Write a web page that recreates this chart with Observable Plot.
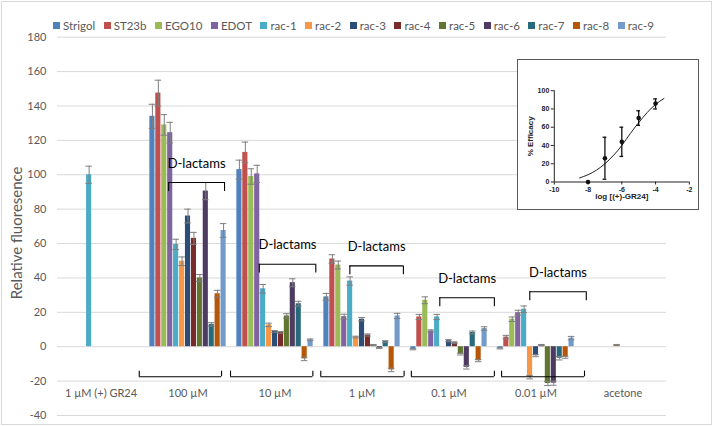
<!DOCTYPE html>
<html>
<head>
<meta charset="utf-8">
<script src="https://cdn.jsdelivr.net/npm/d3@7"></script>
<script src="https://cdn.jsdelivr.net/npm/@observablehq/plot@0.6"></script>
<style>
  html, body { margin: 0; padding: 0; background: #fff; }
  #chart { position: relative; width: 713px; height: 426px; overflow: hidden; font-family: Lato, sans-serif; }
  #frame { position: absolute; left: 1px; top: 1px; width: 709px; height: 422px; border: 1px solid #d9d9d9; pointer-events: none; }
  #main { position: absolute; left: 0; top: 0; }
  #legend { position: absolute; left: 53px; top: 19px; display: flex; gap: 8.5px; font-size: 11.5px; color: #595959; white-space: nowrap; }
  #legend .item { display: flex; align-items: center; gap: 3px; }
  #legend .sw { width: 7px; height: 7px; display: inline-block; }
  #inset { position: absolute; left: 517px; top: 59px; width: 180px; height: 149px; border: 1.5px solid #5a5a5a; background: #fff; }
  #inset svg { display: block; }
</style>
</head>
<body>
<div id="chart">
  <div id="main"></div>
  <div id="legend"></div>
  <div id="inset"></div>
  <div id="frame"></div>
</div>
<script>
// ---- Data ----
const categories = ["1 µM (+) GR24", "100 µM", "10 µM", "1 µM", "0.1 µM", "0.01 µM", "acetone"];
const series = ["Strigol", "ST23b", "EGO10", "EDOT", "rac-1", "rac-2", "rac-3", "rac-4", "rac-5", "rac-6", "rac-7", "rac-8", "rac-9"];
const colors = ["#4F81BD", "#C0504D", "#9BBB59", "#8064A2", "#4BACC6", "#F79646", "#2C4D75", "#772C2A", "#5F7530", "#4D3B62", "#276A7C", "#B65708", "#729ACA"];

// values per series, in category order
const Strigol = [null, 134, 103, 29, -1.5, -1, null];
const ST23b   = [null, 147.5, 113, 51, 17.3, 5.6, null];
const EGO10   = [null, 129, 99, 47.5, 27, 16, null];
const EDOT    = [null, 124.5, 100.5, 17.5, 9.2, 19.8, null];
const rac1    = [100, 59.5, 33.7, 38.2, 17.3, 21.8, null];
const rac2    = [null, 49.7, 12.7, 5.6, 0, -17.7, 1];
const rac3    = [null, 76, 8.9, 16, 3.5, -5.2, null];
const rac4    = [null, 63, 8.3, 6.8, 2.3, 1, null];
const rac5    = [null, 40, 17.9, 1, -4.3, -21.4, null];
const rac6    = [null, 90.5, 37.2, -0.7, -12, -21.2, null];
const rac7    = [null, 13, 25, 3, 8.3, -6.7, null];
const rac8    = [null, 30.8, -7.1, -13.5, -8.1, -6.1, null];
const rac9    = [null, 67.6, 4, 17.9, 10.6, 5, null];

// error bar half-widths
const errStrigol = [null, 7, 5.5, 2, 0.3, 0.3, null];
const errST23b   = [null, 7.5, 6, 2.5, 1.5, 1, null];
const errEGO10   = [null, 6, 4.5, 2.3, 2, 1.3, null];
const errEDOT    = [null, 6, 5, 1.4, 0.6, 1.4, null];
const errRac1    = [5, 3, 2.5, 2.4, 1.5, 1.9, null];
const errRac2    = [null, 2.5, 1, 0.5, 0, 1, 0.3];
const errRac3    = [null, 4, 0.5, 1, 0.6, 0.6, null];
const errRac4    = [null, 3.5, 0.5, 0.6, 0.5, 0.3, null];
const errRac5    = [null, 2, 1.3, 0.3, 0.5, 1.2, null];
const errRac6    = [null, 5, 2.3, 0.3, 1, 1.2, null];
const errRac7    = [null, 1, 1.4, 0.5, 0.8, 1, null];
const errRac8    = [null, 2, 1, 1, 0.6, 0.6, null];
const errRac9    = [null, 4, 0.5, 1.5, 1, 1, null];

const yTicks = [-40, -20, 0, 20, 40, 60, 80, 100, 120, 140, 160, 180];

// "D-lactams" brackets: group, level (value), span in bar slots
const bracketGroups = ["100 µM", "10 µM", "1 µM", "0.1 µM", "0.01 µM"];
const bracketLevel  = [95.5, 48, 47, 28.5, 32];
const bracketFrom   = [3.24, 3.85, 4.45, 4.95, 5.45];
const bracketTo     = [12.66, 13.38, 13.48, 14.15, 14.98];
const bracketLabel  = "D-lactams";

// bottom group brackets
const baseBracketLevel = -17.5;
const baseBracketFrom = [-1.72, -1.0, -0.45, 0.15, 0.7];
const baseBracketTo   = [12.16, 12.88, 13.6, 14.15, 14.68];

// inset: dose-response
const doseX   = [-8, -7, -6, -5, -4];
const doseY   = [0, 26, 44, 70, 86];
const doseLo  = [0, 3, 28, 62, 80];
const doseHi  = [0, 49, 60, 78, 91];
const fitX    = [-8.5, -8, -7.5, -7, -6.5, -6, -5.5, -5, -4.5, -4, -3.5];
const fitY    = [4.4, 8, 13, 20, 29, 40, 53, 65, 76, 85, 91.5];
const insetXTicks = [-10, -8, -6, -4, -2];
const insetYTicks = [0, 20, 40, 60, 80, 100];
const insetXLabel = "log [(+)-GR24]";
const insetYLabel = "% Efficacy";

// ---- Build table ----
const valueLists = [Strigol, ST23b, EGO10, EDOT, rac1, rac2, rac3, rac4, rac5, rac6, rac7, rac8, rac9];
const errLists = [errStrigol, errST23b, errEGO10, errEDOT, errRac1, errRac2, errRac3, errRac4, errRac5, errRac6, errRac7, errRac8, errRac9];
const rows = [];
series.forEach((s, i) => {
  categories.forEach((g, j) => {
    const v = valueLists[i][j];
    if (v != null) rows.push({group: g, series: s, i, value: v, err: errLists[i][j]});
  });
});
const brackets = bracketGroups.map((g, k) => ({group: g, y: bracketLevel[k], from: bracketFrom[k], to: bracketTo[k]}));
const bracketEnds = brackets.flatMap(b => [{group: b.group, x: b.from, y: b.y}, {group: b.group, x: b.to, y: b.y}]);
const baseBrackets = bracketGroups.map((g, k) => ({group: g, y: baseBracketLevel, from: baseBracketFrom[k], to: baseBracketTo[k]}));
const baseEnds = baseBrackets.flatMap(b => [{group: b.group, x: b.from, y: b.y}, {group: b.group, x: b.to, y: b.y}]);

const PAD = 0.835;   // outer padding in bar slots
const TICK_DOWN = 5.2, TICK_UP = 3.3;
const errColor = "#7f7f7f";
const withErr = rows.filter(d => d.err > 0);

const main = Plot.plot({
  width: 713,
  height: 426,
  marginTop: 36.7,
  marginBottom: 11,
  marginLeft: 54,
  marginRight: 44.5,
  style: {fontFamily: "Lato, sans-serif", fontSize: "11px", color: "#595959", background: "transparent"},
  fx: {domain: categories, paddingInner: 0, paddingOuter: 0, axis: null, label: null},
  x: {domain: [-PAD, series.length + PAD], axis: null},
  y: {domain: [-40, 180], ticks: yTicks, tickSize: 0, tickPadding: 11, tickFormat: d => String(d), label: null},
  marks: [
    Plot.ruleY(yTicks, {stroke: "#d9d9d9", strokeWidth: 1}),
    Plot.rectY(rows, {fx: "group", x1: d => d.i, x2: d => d.i + 1, y1: 0, y2: "value", fill: d => colors[d.i], insetLeft: 0.4, insetRight: 0.4}),
    Plot.ruleX(withErr, {fx: "group", x: d => d.i + 0.5, y1: d => d.value - d.err, y2: d => d.value + d.err, stroke: errColor, strokeWidth: 1}),
    Plot.ruleY(withErr, {fx: "group", y: d => d.value + d.err, x1: d => d.i - 0.05, x2: d => d.i + 1.05, stroke: errColor, strokeWidth: 1}),
    Plot.ruleY(withErr, {fx: "group", y: d => d.value - d.err, x1: d => d.i - 0.05, x2: d => d.i + 1.05, stroke: errColor, strokeWidth: 1}),
    // D-lactams brackets
    Plot.ruleY(brackets, {fx: "group", y: "y", x1: "from", x2: "to", stroke: "#000", strokeWidth: 1.1}),
    Plot.ruleX(bracketEnds, {fx: "group", x: "x", y1: "y", y2: d => d.y - TICK_DOWN, stroke: "#000", strokeWidth: 1.1}),
    Plot.text(brackets, {fx: "group", x: d => (d.from + d.to) / 2, y: "y", text: () => bracketLabel, dy: -19, fill: "#000", fontSize: 13}),
    // bottom brackets
    Plot.ruleY(baseBrackets, {fx: "group", y: "y", x1: "from", x2: "to", stroke: "#000", strokeWidth: 1.1}),
    Plot.ruleX(baseEnds, {fx: "group", x: "x", y1: "y", y2: d => d.y + TICK_UP, stroke: "#000", strokeWidth: 1.1}),
    // category labels
    Plot.text(categories, {fx: d => d, text: d => d, frameAnchor: "bottom", dy: -19, fill: "#595959", fontSize: 11}),
    // y title
    Plot.text(["Relative fluoresence"], {fx: () => categories[0], text: d => d, frameAnchor: "left", textAnchor: "middle", rotate: -90, dx: -40, dy: 6.5, fill: "#595959", fontSize: 15})
  ]
});
document.getElementById("main").appendChild(main);

// Legend
const legend = document.getElementById("legend");
series.forEach((s, i) => {
  const it = document.createElement("span");
  it.className = "item";
  it.innerHTML = `<span class="sw" style="background:${colors[i]}"></span><span>${s}</span>`;
  legend.appendChild(it);
});

// Inset
const doses = doseX.map((x, k) => ({x, y: doseY[k], lo: doseLo[k], hi: doseHi[k]}));
const doseErr = doses.filter(d => d.hi > d.lo);
const fit = fitX.map((x, k) => ({x, y: fitY[k]}));
const CAP = 0.11;
const insetPlot = Plot.plot({
  width: 180,
  height: 149,
  marginLeft: 35.8,
  marginRight: 9.2,
  marginTop: 30.2,
  marginBottom: 27.5,
  style: {fontFamily: "'Liberation Sans', Arial, sans-serif", fontSize: "7px", fontWeight: "bold", color: "#222", background: "transparent"},
  x: {domain: [-10, -2], ticks: insetXTicks, tickSize: 3, tickPadding: 2, tickFormat: d => String(d), label: null},
  y: {domain: [0, 100], ticks: insetYTicks, tickSize: 3, tickPadding: 2, tickFormat: d => String(d), label: null},
  marks: [
    Plot.ruleY([0], {stroke: "#222", strokeWidth: 1}),
    Plot.ruleX([-10], {stroke: "#222", strokeWidth: 1}),
    Plot.line(fit, {x: "x", y: "y", curve: "natural", stroke: "#222", strokeWidth: 1}),
    Plot.ruleX(doseErr, {x: "x", y1: "lo", y2: "hi", stroke: "#111", strokeWidth: 1.3}),
    Plot.ruleY(doseErr, {y: "hi", x1: d => d.x - CAP, x2: d => d.x + CAP, stroke: "#111", strokeWidth: 1.3}),
    Plot.ruleY(doseErr, {y: "lo", x1: d => d.x - CAP, x2: d => d.x + CAP, stroke: "#111", strokeWidth: 1.3}),
    Plot.dot(doses, {x: "x", y: "y", r: 2.3, fill: "#111"}),
    Plot.text([insetXLabel], {text: d => d, frameAnchor: "bottom", dy: 17, fill: "#222", fontSize: 8, fontWeight: "bold"}),
    Plot.text([insetYLabel], {text: d => d, frameAnchor: "left", textAnchor: "middle", rotate: -90, dx: -24, fill: "#222", fontSize: 8, fontWeight: "bold"})
  ]
});
document.getElementById("inset").appendChild(insetPlot);
</script>
</body>
</html>
